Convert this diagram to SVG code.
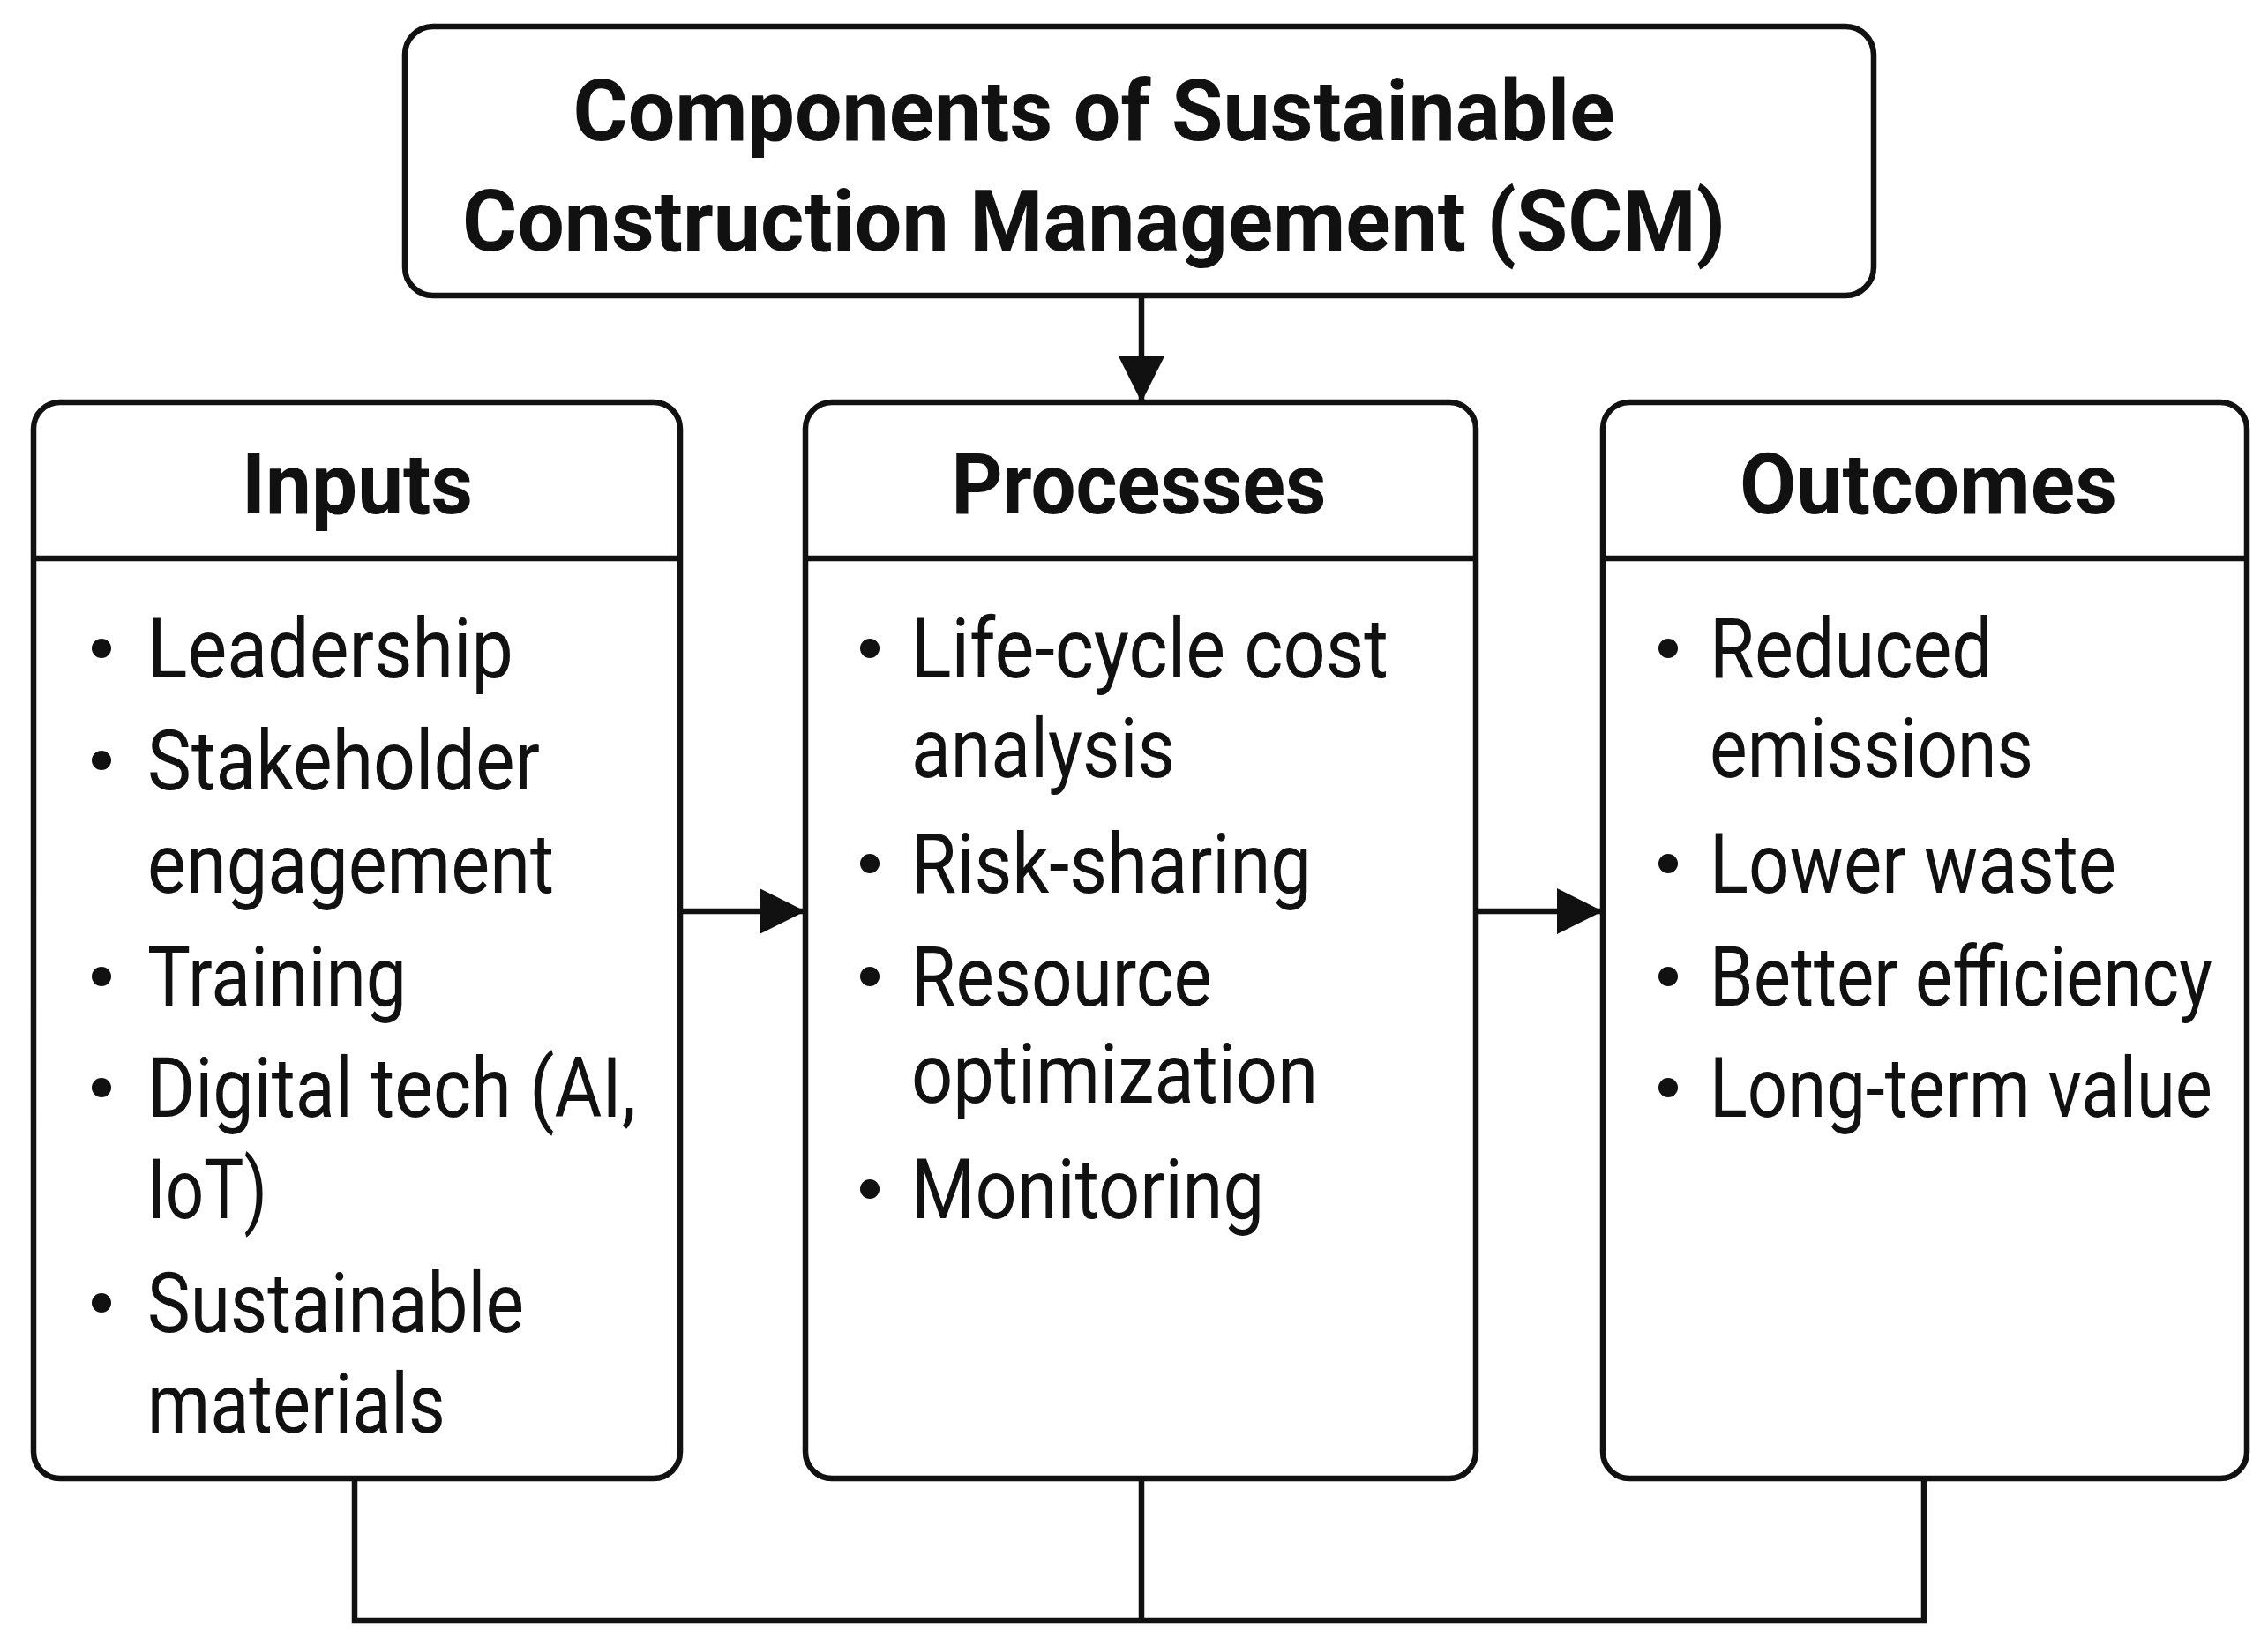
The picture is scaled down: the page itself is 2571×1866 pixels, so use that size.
<svg xmlns="http://www.w3.org/2000/svg" width="2571" height="1866" viewBox="0 0 2571 1866">
<style>
.box{fill:#fff;stroke:#111;stroke-width:6.5}
.ln{fill:none;stroke:#111;stroke-width:6.5}
.t{font-family:Roboto,"Liberation Sans",sans-serif;fill:#111;font-size:94px}
.h{font-family:Roboto,"Liberation Sans",sans-serif;fill:#111;font-size:96px;font-weight:bold;text-anchor:middle}
.b{fill:#111}
</style>
<defs>
<marker id="a2" viewBox="0 0 10 10" refX="10" refY="5" markerWidth="52" markerHeight="52" markerUnits="userSpaceOnUse" orient="auto"><path d="M0,0L10,5L0,10z" fill="#111"/></marker></defs>
<rect width="2571" height="1866" fill="#fff"/>
<g id="connectors">
<line class="ln" x1="1294" y1="335" x2="1294" y2="456" marker-end="url(#a2)"/>
<line class="ln" x1="771" y1="1033" x2="913" y2="1033" marker-end="url(#a2)"/>
<line class="ln" x1="1673" y1="1033" x2="1817" y2="1033" marker-end="url(#a2)"/>
<polyline class="ln" points="402,1676 402,1837 2181,1837 2181,1676"/>
<line class="ln" x1="1294" y1="1676" x2="1294" y2="1837"/>
</g>
<g id="title">
<rect class="box" x="459" y="30" width="1665" height="305" rx="32"/>
<text class="h" x="1240" y="159" font-size="100" textLength="1181" lengthAdjust="spacingAndGlyphs">Components of Sustainable</text>
<text class="h" x="1240" y="284" font-size="100" textLength="1432" lengthAdjust="spacingAndGlyphs">Construction Management (SCM)</text>
</g>
<g id="inputs">
<rect class="box" x="38" y="456" width="733" height="1220" rx="30"/>
<line class="ln" x1="38" y1="633" x2="771" y2="633"/>
<text class="h" x="405" y="582" textLength="262" lengthAdjust="spacingAndGlyphs">Inputs</text>
<circle class="b" cx="115" cy="735" r="11"/><text class="t" x="167" y="768" textLength="415" lengthAdjust="spacingAndGlyphs">Leadership</text>
<circle class="b" cx="115" cy="862" r="11"/><text class="t" x="167" y="895" textLength="445" lengthAdjust="spacingAndGlyphs">Stakeholder</text>
<text class="t" x="167" y="1012" textLength="461" lengthAdjust="spacingAndGlyphs">engagement</text>
<circle class="b" cx="115" cy="1107" r="11"/><text class="t" x="167" y="1140" textLength="294" lengthAdjust="spacingAndGlyphs">Training</text>
<circle class="b" cx="115" cy="1233" r="11"/><text class="t" x="167" y="1266" textLength="554" lengthAdjust="spacingAndGlyphs">Digital tech (AI,</text>
<text class="t" x="167" y="1381" textLength="136" lengthAdjust="spacingAndGlyphs">IoT)</text>
<circle class="b" cx="115" cy="1477" r="11"/><text class="t" x="167" y="1510" textLength="427" lengthAdjust="spacingAndGlyphs">Sustainable</text>
<text class="t" x="167" y="1624" textLength="338" lengthAdjust="spacingAndGlyphs">materials</text>
</g>
<g id="processes">
<rect class="box" x="913" y="456" width="760" height="1220" rx="30"/>
<line class="ln" x1="913" y1="633" x2="1673" y2="633"/>
<text class="h" x="1291" y="582" textLength="425" lengthAdjust="spacingAndGlyphs">Processes</text>
<circle class="b" cx="986" cy="735" r="11"/><text class="t" x="1033" y="768" textLength="541" lengthAdjust="spacingAndGlyphs">Life-cycle cost</text>
<text class="t" x="1033" y="881" textLength="299" lengthAdjust="spacingAndGlyphs">analysis</text>
<circle class="b" cx="986" cy="979" r="11"/><text class="t" x="1033" y="1012" textLength="454" lengthAdjust="spacingAndGlyphs">Risk-sharing</text>
<circle class="b" cx="986" cy="1107" r="11"/><text class="t" x="1033" y="1140" textLength="341" lengthAdjust="spacingAndGlyphs">Resource</text>
<text class="t" x="1033" y="1250" textLength="461" lengthAdjust="spacingAndGlyphs">optimization</text>
<circle class="b" cx="986" cy="1348" r="11"/><text class="t" x="1033" y="1381" textLength="400" lengthAdjust="spacingAndGlyphs">Monitoring</text>
</g>
<g id="outcomes">
<rect class="box" x="1817" y="456" width="730" height="1220" rx="30"/>
<line class="ln" x1="1817" y1="633" x2="2547" y2="633"/>
<text class="h" x="2186" y="582" textLength="428" lengthAdjust="spacingAndGlyphs">Outcomes</text>
<circle class="b" cx="1891" cy="735" r="11"/><text class="t" x="1938" y="768" textLength="321" lengthAdjust="spacingAndGlyphs">Reduced</text>
<text class="t" x="1938" y="881" textLength="367" lengthAdjust="spacingAndGlyphs">emissions</text>
<circle class="b" cx="1891" cy="979" r="11"/><text class="t" x="1938" y="1012" textLength="461" lengthAdjust="spacingAndGlyphs">Lower waste</text>
<circle class="b" cx="1891" cy="1107" r="11"/><text class="t" x="1938" y="1140" textLength="570" lengthAdjust="spacingAndGlyphs">Better efficiency</text>
<circle class="b" cx="1891" cy="1233" r="11"/><text class="t" x="1938" y="1266" textLength="570" lengthAdjust="spacingAndGlyphs">Long-term value</text>
</g>
</svg>
